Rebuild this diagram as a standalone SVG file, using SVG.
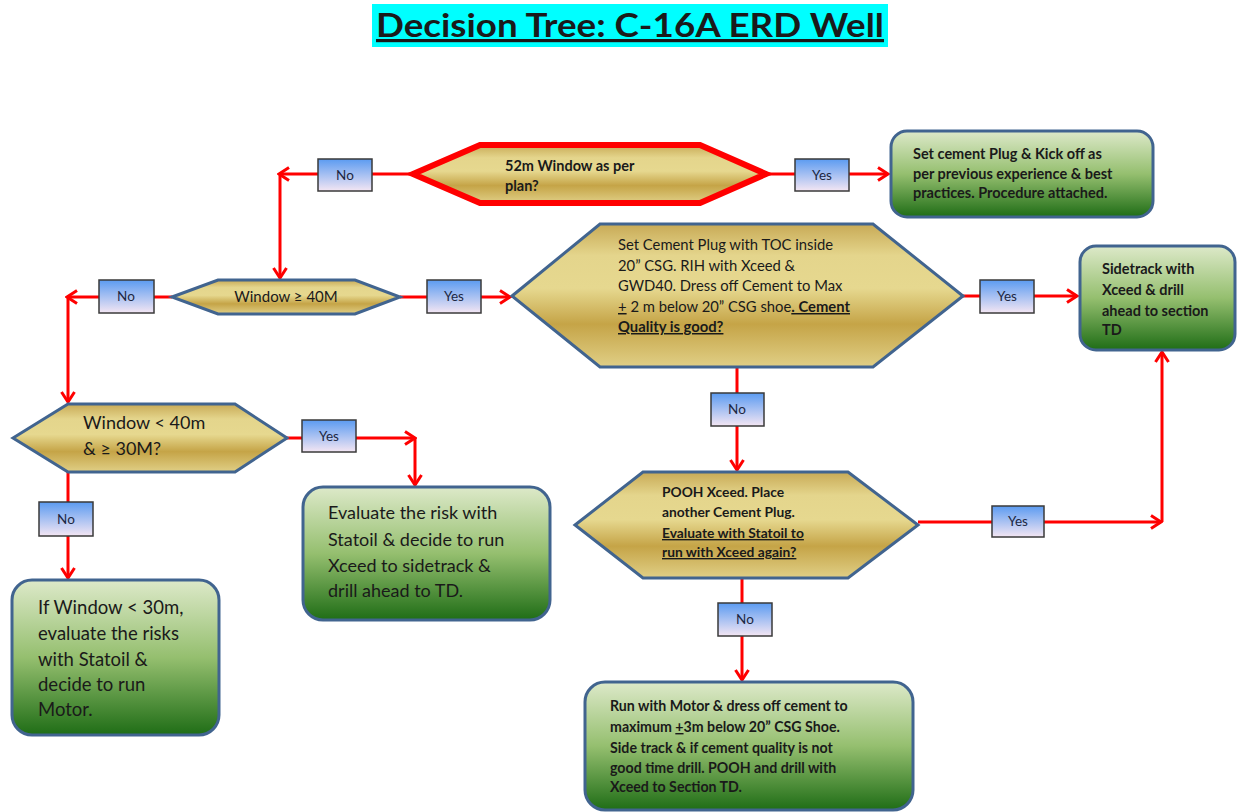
<svg xmlns="http://www.w3.org/2000/svg" width="1237" height="812" viewBox="0 0 1237 812">
  <defs>
    <linearGradient id="gold" x1="0" y1="0" x2="0" y2="1">
      <stop offset="0" stop-color="#c8aa56"/>
      <stop offset="0.22" stop-color="#e4d58c"/>
      <stop offset="0.45" stop-color="#e6d88f"/>
      <stop offset="0.7" stop-color="#c5a447"/>
      <stop offset="1" stop-color="#e0cf86"/>
    </linearGradient>
    <linearGradient id="green" x1="0" y1="0" x2="0" y2="1">
      <stop offset="0" stop-color="#dde9c9"/>
      <stop offset="0.5" stop-color="#95bf6f"/>
      <stop offset="1" stop-color="#1f6d16"/>
    </linearGradient>
    <linearGradient id="tag" x1="0" y1="0" x2="0" y2="1">
      <stop offset="0" stop-color="#5b9bf1"/>
      <stop offset="1" stop-color="#f4e6f3"/>
    </linearGradient>
    <marker id="arrow" markerUnits="userSpaceOnUse" markerWidth="14" markerHeight="16" refX="12" refY="8" orient="auto">
      <path d="M2,1.5 L12,8 L2,14.5" fill="none" stroke="#ff0000" stroke-width="3" stroke-linejoin="miter"/>
    </marker>
  </defs>
  <style>
    .hex { fill: url(#gold); stroke: #41648f; stroke-width: 3; stroke-linejoin: miter; }
    .hexred { fill: url(#gold); stroke: #ff0000; stroke-width: 6; stroke-linejoin: miter; }
    .box { fill: url(#green); stroke: #41648f; stroke-width: 3; }
    .tag rect { fill: url(#tag); stroke: #3a3a3a; stroke-width: 1.5; }
    .tag text { font-family: Lato, "Liberation Sans", sans-serif; font-size: 13.5px; fill: #1c2742; text-anchor: middle; }
    .t { font-family: Lato, "Liberation Sans", sans-serif; fill: #1a1a1a; }
    .b { font-weight: bold; }
    .u { text-decoration: underline; }
    #connectors path { fill: none; stroke: #ff0000; stroke-width: 3; }
    #connectors path.a { marker-end: url(#arrow); }
  </style>

  <rect width="1237" height="812" fill="#ffffff"/>

  <!-- title -->
  <g id="title">
    <rect x="372" y="4" width="516" height="43" fill="#00ffff"/>
    <text x="376" y="37" class="t b u" font-size="32" fill="#000" textLength="508" lengthAdjust="spacingAndGlyphs">Decision Tree: C-16A ERD Well</text>
  </g>

  <!-- connectors -->
  <g id="connectors">
    <path d="M413,174 H372"/>
    <path class="a" d="M318,174 H279"/>
    <path class="a" d="M280,174 V278"/>
    <path d="M766,174 H795"/>
    <path class="a" d="M849,174 H888"/>
    <path d="M172,297 H154"/>
    <path class="a" d="M99,297 H67"/>
    <path class="a" d="M68,297 V402"/>
    <path d="M400,297 H427"/>
    <path class="a" d="M481,297 H510"/>
    <path d="M963,296 H980"/>
    <path class="a" d="M1034,296 H1077"/>
    <path d="M737,367 V393"/>
    <path class="a" d="M737,426 V470"/>
    <path d="M742,578 V603"/>
    <path class="a" d="M742,636 V680"/>
    <path d="M918,522 H992"/>
    <path class="a" d="M1044,522 H1161"/>
    <path class="a" d="M1162,522 V352"/>
    <path d="M287,438 H302"/>
    <path class="a" d="M356,438 H415"/>
    <path class="a" d="M415,438 V485"/>
    <path d="M68,472 V502"/>
    <path class="a" d="M68,536 V578"/>
  </g>

  <!-- decision: planned window -->
  <g id="d-window52">
    <polygon class="hexred" points="413,174 480,145 700,145 766,174 700,203 480,203"/>
    <text class="t b" font-size="14.5"><tspan x="505" y="171">52m Window as per</tspan><tspan x="505" y="191">plan?</tspan></text>
  </g>

  <!-- decision: window at least 40 m -->
  <g id="d-window40">
    <polygon class="hex" points="172,297 218,280 355,280 400,297 355,314 218,314"/>
    <text class="t" font-size="15" x="286" y="302" text-anchor="middle">Window ≥ 40M</text>
  </g>

  <!-- decision: cement plug with Xceed -->
  <g id="d-cement">
    <polygon class="hex" points="512,296 600,224 873,224 963,296 873,367 600,367"/>
    <text class="t" font-size="14.8">
      <tspan x="618" y="250">Set Cement Plug with TOC inside</tspan>
      <tspan x="618" y="271">20” CSG. RIH with Xceed &amp;</tspan>
      <tspan x="618" y="291">GWD40. Dress off Cement to Max</tspan>
      <tspan x="618" y="312"><tspan class="u">+</tspan> 2 m below 20” CSG shoe<tspan class="b u">. Cement</tspan></tspan>
      <tspan x="618" y="332" class="b u">Quality is good?</tspan>
    </text>
  </g>

  <!-- decision: window between 30 and 40 m -->
  <g id="d-window30">
    <polygon class="hex" points="13,438 68,404 235,404 287,438 235,472 68,472"/>
    <text class="t" font-size="18"><tspan x="83" y="429">Window &lt; 40m</tspan><tspan x="83" y="455">&amp; ≥ 30M?</tspan></text>
  </g>

  <!-- decision: second plug -->
  <g id="d-pooh">
    <polygon class="hex" points="575,525 643,472 848,472 918,525 848,578 643,578"/>
    <text class="t b" font-size="13.8">
      <tspan x="662" y="497">POOH Xceed. Place</tspan>
      <tspan x="662" y="517">another Cement Plug.</tspan>
      <tspan x="662" y="538" class="u">Evaluate with Statoil to</tspan>
      <tspan x="662" y="557" class="u">run with Xceed again?</tspan>
    </text>
  </g>

  <!-- outcome: kick off -->
  <g id="o-kickoff">
    <rect class="box" x="891" y="131" width="262" height="86" rx="16"/>
    <text class="t b" font-size="14.5">
      <tspan x="913" y="159">Set cement Plug &amp; Kick off as</tspan>
      <tspan x="913" y="179">per previous experience &amp; best</tspan>
      <tspan x="913" y="198">practices. Procedure attached.</tspan>
    </text>
  </g>

  <!-- outcome: sidetrack with Xceed -->
  <g id="o-sidetrack">
    <rect class="box" x="1080" y="246" width="155" height="104" rx="16"/>
    <text class="t b" font-size="14.5">
      <tspan x="1102" y="274">Sidetrack with</tspan>
      <tspan x="1102" y="295">Xceed &amp; drill</tspan>
      <tspan x="1102" y="316">ahead to section</tspan>
      <tspan x="1102" y="335">TD</tspan>
    </text>
  </g>

  <!-- outcome: evaluate Xceed -->
  <g id="o-evaluate">
    <rect class="box" x="303" y="487" width="247" height="133" rx="20"/>
    <text class="t" font-size="18">
      <tspan x="328" y="519">Evaluate the risk with</tspan>
      <tspan x="328" y="546">Statoil &amp; decide to run</tspan>
      <tspan x="328" y="572">Xceed to sidetrack &amp;</tspan>
      <tspan x="328" y="597">drill ahead to TD.</tspan>
    </text>
  </g>

  <!-- outcome: run motor -->
  <g id="o-motor">
    <rect class="box" x="12" y="580" width="207" height="155" rx="20"/>
    <text class="t" font-size="18.5">
      <tspan x="38" y="614">If Window &lt; 30m,</tspan>
      <tspan x="38" y="640">evaluate the risks</tspan>
      <tspan x="38" y="666">with Statoil &amp;</tspan>
      <tspan x="38" y="691">decide to run</tspan>
      <tspan x="38" y="716">Motor.</tspan>
    </text>
  </g>

  <!-- outcome: motor dress-off -->
  <g id="o-dressoff">
    <rect class="box" x="585" y="682" width="328" height="128" rx="20"/>
    <text class="t b" font-size="14.2">
      <tspan x="610" y="711">Run with Motor &amp; dress off cement to</tspan>
      <tspan x="610" y="732">maximum <tspan class="u">+</tspan>3m below 20” CSG Shoe.</tspan>
      <tspan x="610" y="753">Side track &amp; if cement quality is not</tspan>
      <tspan x="610" y="773">good time drill. POOH and drill with</tspan>
      <tspan x="610" y="792">Xceed to Section TD.</tspan>
    </text>
  </g>

  <!-- branch labels -->
  <g id="l-no1" class="tag"><rect x="318" y="159" width="54" height="32"/><text x="345" y="180">No</text></g>
  <g id="l-yes1" class="tag"><rect x="795" y="159" width="54" height="32"/><text x="822" y="180">Yes</text></g>
  <g id="l-no2" class="tag"><rect x="99" y="280" width="55" height="33"/><text x="126" y="301">No</text></g>
  <g id="l-yes2" class="tag"><rect x="427" y="280" width="54" height="33"/><text x="454" y="301">Yes</text></g>
  <g id="l-yes3" class="tag"><rect x="980" y="280" width="54" height="33"/><text x="1007" y="301">Yes</text></g>
  <g id="l-no3" class="tag"><rect x="711" y="393" width="53" height="33"/><text x="737" y="414">No</text></g>
  <g id="l-yes4" class="tag"><rect x="302" y="420" width="54" height="32"/><text x="329" y="441">Yes</text></g>
  <g id="l-no4" class="tag"><rect x="39" y="502" width="54" height="34"/><text x="66" y="524">No</text></g>
  <g id="l-yes5" class="tag"><rect x="992" y="506" width="52" height="31"/><text x="1018" y="526">Yes</text></g>
  <g id="l-no5" class="tag"><rect x="718" y="603" width="54" height="33"/><text x="745" y="624">No</text></g>
</svg>
